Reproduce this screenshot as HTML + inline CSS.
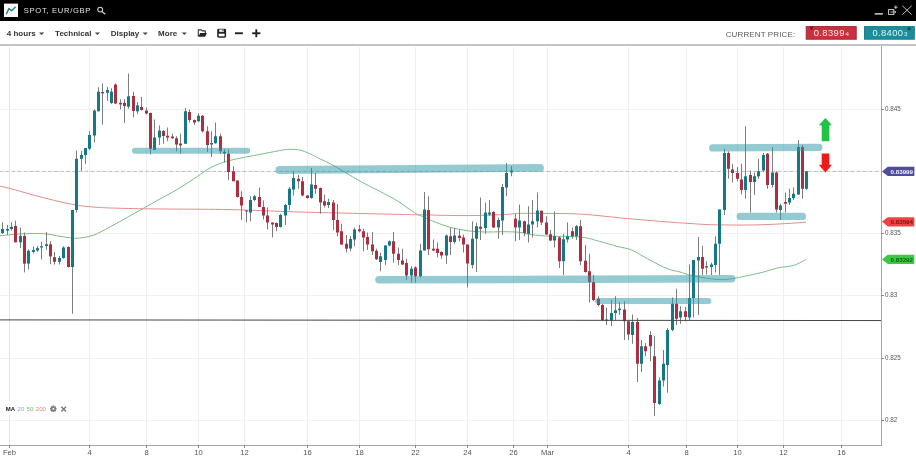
<!DOCTYPE html>
<html><head><meta charset="utf-8"><title>SPOT, EUR/GBP</title>
<style>
html,body{margin:0;padding:0;width:916px;height:460px;overflow:hidden;background:#fff}
body{position:relative;font-family:"Liberation Sans",Arial,sans-serif}
svg{position:absolute;left:0;top:0;display:block;will-change:transform}
svg text{font-family:"Liberation Sans",Arial,sans-serif}
.tb{font-size:8px;font-weight:bold;fill:#333}
.ax{font-size:7.6px;fill:#555}
.pl{font-size:6.3px;fill:#555}
</style></head><body>
<svg width="916" height="460" viewBox="0 0 916 460">
<!-- header -->
<rect x="0" y="0" width="916" height="21" fill="#000"/>
<rect x="4" y="3.6" width="14" height="13.4" fill="#fafafa"/>
<polyline points="6.2,14.3 8.9,8.6 11.7,10.8 15.6,6.7" fill="none" stroke="#2b8079" stroke-width="1.4" stroke-linejoin="round"/>
<text x="23.8" y="13.3" font-size="7.6" fill="#e2e2e2" letter-spacing="0.7">SPOT, EUR/GBP</text>
<circle cx="100.2" cy="9.6" r="2.4" fill="none" stroke="#cfcfcf" stroke-width="1.1"/>
<line x1="101.9" y1="11.4" x2="105.3" y2="14.2" stroke="#cfcfcf" stroke-width="1.3"/>
<rect x="874.7" y="13.1" width="8.2" height="1.5" fill="#cfcfcf"/>
<rect x="888.6" y="9.6" width="5.2" height="4.8" fill="none" stroke="#cfcfcf" stroke-width="1"/>
<path d="M890.5,12 h5.2 M894.6,10.9 l1.3,1.1 l-1.3,1.1" fill="none" stroke="#cfcfcf" stroke-width="0.9"/>
<path d="M895.8,5.4 v3.6 M894,7.2 h3.6" stroke="#cfcfcf" stroke-width="0.9"/>
<path d="M902.4,5.8 L911.6,14.6 M911.6,5.8 L902.4,14.6" stroke="#d4d4d4" stroke-width="0.9"/>
<!-- toolbar -->
<rect x="0" y="44" width="916" height="2" fill="#c3c3c3"/>
<text class="tb" x="6.8" y="36">4 hours</text>
<polygon points="39,32.4 44.2,32.4 41.6,35.1" fill="#444"/>
<text class="tb" x="55.1" y="36">Technical</text>
<polygon points="94.8,32.4 100,32.4 97.4,35.1" fill="#444"/>
<text class="tb" x="110.8" y="36">Display</text>
<polygon points="142.6,32.4 147.8,32.4 145.2,35.1" fill="#444"/>
<text class="tb" x="158.1" y="36">More</text>
<polygon points="181.7,32.4 186.9,32.4 184.3,35.1" fill="#444"/>
<!-- folder icon -->
<path d="M198.3,36.4 V29.9 H201.3 L202.3,30.9 H205.3 V33" fill="#fff" stroke="#333" stroke-width="1.1" stroke-linejoin="round"/>
<path d="M200.2,32.9 H206.9 L205.1,36.8 H198.3 Z" fill="#262626"/>
<!-- save icon -->
<rect x="217.2" y="28.7" width="8.9" height="9" rx="1.4" fill="#222"/>
<rect x="218.7" y="33.7" width="5.9" height="2.6" fill="#fff"/>
<rect x="219.2" y="29.5" width="4.7" height="2.3" fill="#fff"/>
<rect x="222.3" y="29.7" width="1.1" height="1.4" fill="#222"/>
<!-- minus plus -->
<rect x="235" y="32.3" width="7.9" height="1.9" fill="#222"/>
<rect x="252.2" y="32.3" width="8.2" height="1.9" fill="#222"/>
<rect x="255.35" y="29.3" width="1.9" height="7.9" fill="#222"/>
<text x="725.7" y="36.8" font-size="8" fill="#5a5a5a" letter-spacing="0.12">CURRENT PRICE:</text>
<rect x="806.2" y="26.6" width="50" height="12.6" fill="#c9303d" stroke="#a5283a" stroke-width="1"/>
<path d="M810.2,26.4 h2.6 v2 l-1.3,1.8 l-1.3,-1.8 z" fill="#7a1020"/>
<text x="813.7" y="35.8" font-size="9.4" fill="#fbe9ea" letter-spacing="0.4">0.8399<tspan font-size="6.2" dx="0.6">4</tspan></text>
<rect x="864.5" y="26.6" width="49.8" height="12.6" fill="#1b8e9b" stroke="#17808c" stroke-width="1"/>
<path d="M907.8,30.2 h2.6 v-2 l-1.3,-1.8 l-1.3,1.8 z" fill="#0d4d55"/>
<text x="872.4" y="35.8" font-size="9.4" fill="#d8fafa" letter-spacing="0.4">0.8400<tspan font-size="6.2" dx="0.6">3</tspan></text>
<!-- chart grid -->
<line x1="9.5" y1="47" x2="9.5" y2="445" stroke="#e4e4e4"/>
<line x1="89.5" y1="47" x2="89.5" y2="445" stroke="#efefef"/>
<line x1="146.5" y1="47" x2="146.5" y2="445" stroke="#efefef"/>
<line x1="198.5" y1="47" x2="198.5" y2="445" stroke="#efefef"/>
<line x1="244.5" y1="47" x2="244.5" y2="445" stroke="#efefef"/>
<line x1="307.5" y1="47" x2="307.5" y2="445" stroke="#efefef"/>
<line x1="359.5" y1="47" x2="359.5" y2="445" stroke="#efefef"/>
<line x1="415.5" y1="47" x2="415.5" y2="445" stroke="#efefef"/>
<line x1="467.5" y1="47" x2="467.5" y2="445" stroke="#efefef"/>
<line x1="513.5" y1="47" x2="513.5" y2="445" stroke="#efefef"/>
<line x1="547.5" y1="47" x2="547.5" y2="445" stroke="#efefef"/>
<line x1="628.5" y1="47" x2="628.5" y2="445" stroke="#efefef"/>
<line x1="686.5" y1="47" x2="686.5" y2="445" stroke="#efefef"/>
<line x1="737.5" y1="47" x2="737.5" y2="445" stroke="#efefef"/>
<line x1="783.5" y1="47" x2="783.5" y2="445" stroke="#efefef"/>
<line x1="841.5" y1="47" x2="841.5" y2="445" stroke="#efefef"/>
<line x1="0" y1="109.5" x2="881" y2="109.5" stroke="#f1f1f1"/>
<line x1="0" y1="171.5" x2="881" y2="171.5" stroke="#f1f1f1"/>
<line x1="0" y1="233.5" x2="881" y2="233.5" stroke="#f1f1f1"/>
<line x1="0" y1="295.5" x2="881" y2="295.5" stroke="#f1f1f1"/>
<line x1="0" y1="358.5" x2="881" y2="358.5" stroke="#f1f1f1"/>
<line x1="0" y1="420.5" x2="881" y2="420.5" stroke="#f1f1f1"/>
<line x1="0" y1="171.4" x2="881" y2="171.4" stroke="#bdbdbd" stroke-dasharray="3.8,2.279" stroke-dashoffset="0.62"/>
<path d="M0,186.3 C1.82,186.7 5.47,187.28 10.9,188.7 C16.33,190.12 25.37,192.85 32.6,194.8 C39.83,196.75 47.07,198.7 54.3,200.4 C61.53,202.1 68.45,203.82 76,205 C83.55,206.18 89.15,206.88 99.6,207.5 C110.05,208.12 125.67,208.43 138.7,208.7 C151.73,208.97 162.58,208.95 177.8,209.1 C193.02,209.25 209.63,209.12 230,209.6 C250.37,210.08 273.33,211.23 300,212 C326.67,212.77 369.38,213.72 390,214.2 C410.62,214.68 410.82,214.67 423.7,214.9 C436.58,215.13 454.25,215.65 467.3,215.6 C480.35,215.55 493.27,214.97 502,214.6 C510.73,214.23 513.37,213.6 519.7,213.4 C526.03,213.2 531.78,213.35 540,213.4 C548.22,213.45 560.88,213.48 569,213.7 C577.12,213.92 578.9,213.88 588.7,214.7 C598.5,215.52 614.77,217.4 627.8,218.6 C640.83,219.8 656.53,221.08 666.9,221.9 C677.27,222.72 681.98,223.02 690,223.5 C698.02,223.98 703.33,224.58 715,224.8 C726.67,225.02 744.83,225.22 760,224.8 C775.17,224.38 798.33,222.72 806,222.3" fill="none" stroke="#e58b8b" stroke-width="1"/>
<path d="M0,235.8 C2.5,235.55 10,234.67 15,234.3 C20,233.93 25,233.68 30,233.6 C35,233.52 40,233.35 45,233.8 C50,234.25 55.5,235.6 60,236.3 C64.5,237 68.67,237.72 72,238 C75.33,238.28 76.38,238.48 80,238 C83.62,237.52 88.82,236.88 93.7,235.1 C98.58,233.32 103.43,230.4 109.3,227.3 C115.17,224.2 123.03,219.77 128.9,216.5 C134.77,213.23 139.62,210.47 144.5,207.7 C149.38,204.93 152.65,203 158.2,199.9 C163.75,196.8 171.27,193.02 177.8,189.1 C184.33,185.18 192.52,179.65 197.4,176.4 C202.28,173.15 203.85,171.55 207.1,169.6 C210.35,167.65 213.63,166.08 216.9,164.7 C220.17,163.32 222.85,162.38 226.7,161.3 C230.55,160.22 233.63,159.52 240,158.2 C246.37,156.88 257.83,154.75 264.9,153.4 C271.97,152.05 278.32,150.78 282.4,150.1 C286.48,149.42 286.48,149.3 289.4,149.3 C292.32,149.3 296.7,149.47 299.9,150.1 C303.1,150.73 305.7,151.87 308.6,153.1 C311.5,154.33 312.93,155.32 317.3,157.5 C321.67,159.68 328.97,163 334.8,166.2 C340.63,169.4 346.48,173.35 352.3,176.7 C358.12,180.05 365.08,183.85 369.7,186.3 C374.32,188.75 375.37,188.95 380,191.4 C384.63,193.85 391.68,197.4 397.5,201 C403.32,204.6 410.53,210.35 414.9,213 C419.27,215.65 420.78,215.57 423.7,216.9 C426.62,218.23 428.03,219.28 432.4,221 C436.77,222.72 444.08,225.58 449.9,227.2 C455.72,228.82 461.48,229.9 467.3,230.7 C473.12,231.5 478.97,231.83 484.8,232 C490.63,232.17 496.48,231.65 502.3,231.7 C508.12,231.75 515.08,231.83 519.7,232.3 C524.32,232.77 525.02,233.85 530,234.5 C534.98,235.15 543.08,235.88 549.6,236.2 C556.12,236.52 563.23,236.17 569.1,236.4 C574.97,236.63 579.9,236.82 584.8,237.6 C589.7,238.38 592.97,239.6 598.5,241.1 C604.03,242.6 612.47,245.12 618,246.6 C623.53,248.08 626.8,247.98 631.7,250 C636.6,252.02 641.53,255.62 647.4,258.7 C653.27,261.78 661.47,266.28 666.9,268.5 C672.33,270.72 676.37,270.97 680,272 C683.63,273.03 684.33,273.68 688.7,274.7 C693.07,275.72 701.1,277.3 706.2,278.1 C711.3,278.9 714.93,279.42 719.3,279.5 C723.67,279.58 725.62,279.7 732.4,278.6 C739.18,277.5 752.37,274.7 760,272.9 C767.63,271.1 772.55,269.07 778.2,267.8 C783.85,266.53 789.22,266.72 793.9,265.3 C798.58,263.88 804.23,260.3 806.3,259.3" fill="none" stroke="#7bbd88" stroke-width="1"/>
<line x1="2.5" y1="222.2" x2="2.5" y2="234" stroke="#7d7d7d"/>
<rect x="1" y="229" width="3" height="4" fill="#137986"/>
<line x1="7.5" y1="224.9" x2="7.5" y2="235" stroke="#7d7d7d"/>
<rect x="6" y="229" width="3" height="1.6" fill="#137986"/>
<line x1="11.5" y1="222.2" x2="11.5" y2="230.6" stroke="#7d7d7d"/>
<rect x="10" y="226.8" width="3" height="2.2" fill="#137986"/>
<line x1="15.5" y1="220.7" x2="15.5" y2="242.3" stroke="#7d7d7d"/>
<rect x="14" y="226" width="3" height="16.3" fill="#ad2e3e"/>
<line x1="20.5" y1="227.5" x2="20.5" y2="248.1" stroke="#7d7d7d"/>
<rect x="19" y="235.9" width="3" height="6.4" fill="#137986"/>
<line x1="24.5" y1="232.5" x2="24.5" y2="272.4" stroke="#7d7d7d"/>
<rect x="23" y="235.9" width="3" height="27.7" fill="#ad2e3e"/>
<line x1="28.5" y1="249.3" x2="28.5" y2="269.4" stroke="#7d7d7d"/>
<rect x="27" y="250.8" width="3" height="12.8" fill="#137986"/>
<line x1="33.5" y1="246.5" x2="33.5" y2="253.4" stroke="#7d7d7d"/>
<rect x="32" y="249.9" width="3" height="2" fill="#137986"/>
<line x1="37.5" y1="246" x2="37.5" y2="252" stroke="#7d7d7d"/>
<rect x="36" y="248.1" width="3" height="2.3" fill="#137986"/>
<line x1="41.5" y1="241.7" x2="41.5" y2="259.5" stroke="#7d7d7d"/>
<rect x="40" y="246.2" width="3" height="1.3" fill="#137986"/>
<line x1="46.5" y1="232.1" x2="46.5" y2="249.9" stroke="#7d7d7d"/>
<rect x="45" y="244.3" width="3" height="1.7" fill="#137986"/>
<line x1="50.5" y1="241.2" x2="50.5" y2="264.1" stroke="#7d7d7d"/>
<rect x="49" y="244.3" width="3" height="12.1" fill="#ad2e3e"/>
<line x1="54.5" y1="251.9" x2="54.5" y2="264.5" stroke="#7d7d7d"/>
<rect x="53" y="257.2" width="3" height="4.6" fill="#ad2e3e"/>
<line x1="59.5" y1="256" x2="59.5" y2="264.5" stroke="#7d7d7d"/>
<rect x="58" y="258" width="3" height="3.8" fill="#137986"/>
<line x1="63.5" y1="246.25" x2="63.5" y2="258.75" stroke="#7d7d7d"/>
<rect x="62" y="247.5" width="3" height="10.5" fill="#137986"/>
<line x1="68.5" y1="246.25" x2="68.5" y2="267.5" stroke="#7d7d7d"/>
<rect x="67" y="247" width="3" height="20" fill="#ad2e3e"/>
<line x1="72.5" y1="210" x2="72.5" y2="313.75" stroke="#7d7d7d"/>
<rect x="71" y="210" width="3" height="57" fill="#137986"/>
<line x1="76.5" y1="150.5" x2="76.5" y2="212.5" stroke="#7d7d7d"/>
<rect x="75" y="158.75" width="3" height="51.25" fill="#137986"/>
<line x1="81.5" y1="151" x2="81.5" y2="171" stroke="#7d7d7d"/>
<rect x="80" y="155" width="3" height="3.75" fill="#137986"/>
<line x1="85.5" y1="148" x2="85.5" y2="163.75" stroke="#7d7d7d"/>
<rect x="84" y="148" width="3" height="7" fill="#137986"/>
<line x1="89.5" y1="131" x2="89.5" y2="150" stroke="#7d7d7d"/>
<rect x="88" y="135" width="3" height="13.75" fill="#137986"/>
<line x1="94.5" y1="109.3" x2="94.5" y2="142.5" stroke="#7d7d7d"/>
<rect x="93" y="110.6" width="3" height="24.9" fill="#137986"/>
<line x1="98.5" y1="87.2" x2="98.5" y2="111.3" stroke="#7d7d7d"/>
<rect x="97" y="91.7" width="3" height="19.6" fill="#137986"/>
<line x1="102.5" y1="83.3" x2="102.5" y2="124.5" stroke="#7d7d7d"/>
<rect x="101" y="92" width="3" height="1.4" fill="#ad2e3e"/>
<line x1="107.5" y1="86.9" x2="107.5" y2="100.9" stroke="#7d7d7d"/>
<rect x="106" y="90" width="3" height="2.7" fill="#137986"/>
<line x1="111.5" y1="88.2" x2="111.5" y2="104.1" stroke="#7d7d7d"/>
<rect x="110" y="91.7" width="3" height="11.3" fill="#137986"/>
<line x1="115.5" y1="83.3" x2="115.5" y2="104.1" stroke="#7d7d7d"/>
<rect x="114" y="84.6" width="3" height="18.9" fill="#ad2e3e"/>
<line x1="120.5" y1="99.2" x2="120.5" y2="109.3" stroke="#7d7d7d"/>
<rect x="119" y="102.8" width="3" height="1.6" fill="#ad2e3e"/>
<line x1="124.5" y1="99.2" x2="124.5" y2="123" stroke="#7d7d7d"/>
<rect x="123" y="102.8" width="3" height="3.3" fill="#ad2e3e"/>
<line x1="128.5" y1="73.5" x2="128.5" y2="108.7" stroke="#7d7d7d"/>
<rect x="127" y="96.3" width="3" height="10.4" fill="#137986"/>
<line x1="133.5" y1="91.7" x2="133.5" y2="117.2" stroke="#7d7d7d"/>
<rect x="132" y="96" width="3" height="14.9" fill="#ad2e3e"/>
<line x1="137.5" y1="102.2" x2="137.5" y2="113.9" stroke="#7d7d7d"/>
<rect x="136" y="105.4" width="3" height="5.9" fill="#137986"/>
<line x1="141.5" y1="97" x2="141.5" y2="110.6" stroke="#7d7d7d"/>
<rect x="140" y="107" width="3" height="3" fill="#ad2e3e"/>
<line x1="146.5" y1="107.5" x2="146.5" y2="114.5" stroke="#7d7d7d"/>
<rect x="145" y="110.6" width="3" height="2.9" fill="#ad2e3e"/>
<line x1="150.5" y1="112.5" x2="150.5" y2="154.5" stroke="#7d7d7d"/>
<rect x="149" y="113" width="3" height="35.75" fill="#ad2e3e"/>
<line x1="154.5" y1="119.5" x2="154.5" y2="150" stroke="#7d7d7d"/>
<rect x="153" y="137.5" width="3" height="12.5" fill="#137986"/>
<line x1="159.5" y1="125.5" x2="159.5" y2="145" stroke="#7d7d7d"/>
<rect x="158" y="130.5" width="3" height="7" fill="#137986"/>
<line x1="163.5" y1="130" x2="163.5" y2="143.75" stroke="#7d7d7d"/>
<rect x="162" y="131" width="3" height="5" fill="#ad2e3e"/>
<line x1="167.5" y1="127.5" x2="167.5" y2="141.25" stroke="#7d7d7d"/>
<rect x="166" y="135.75" width="3" height="1.75" fill="#ad2e3e"/>
<line x1="172.5" y1="133.75" x2="172.5" y2="138.75" stroke="#7d7d7d"/>
<rect x="171" y="136.5" width="3" height="1.75" fill="#ad2e3e"/>
<line x1="176.5" y1="136.25" x2="176.5" y2="151.25" stroke="#7d7d7d"/>
<rect x="175" y="138.25" width="3" height="6.25" fill="#ad2e3e"/>
<line x1="180.5" y1="133.75" x2="180.5" y2="153.5" stroke="#7d7d7d"/>
<rect x="179" y="143.5" width="3" height="2" fill="#ad2e3e"/>
<line x1="185.5" y1="108" x2="185.5" y2="143.75" stroke="#7d7d7d"/>
<rect x="184" y="111.25" width="3" height="32.5" fill="#137986"/>
<line x1="189.5" y1="109.5" x2="189.5" y2="122.5" stroke="#7d7d7d"/>
<rect x="188" y="112" width="3" height="8" fill="#ad2e3e"/>
<line x1="194.5" y1="119.5" x2="194.5" y2="125" stroke="#7d7d7d"/>
<rect x="193" y="120" width="3" height="2.5" fill="#ad2e3e"/>
<line x1="198.5" y1="113.25" x2="198.5" y2="122" stroke="#7d7d7d"/>
<rect x="197" y="115.75" width="3" height="5.5" fill="#137986"/>
<line x1="202.5" y1="115" x2="202.5" y2="132.5" stroke="#7d7d7d"/>
<rect x="201" y="115.75" width="3" height="15.5" fill="#ad2e3e"/>
<line x1="207.5" y1="126.25" x2="207.5" y2="152" stroke="#7d7d7d"/>
<rect x="206" y="131.25" width="3" height="13.75" fill="#ad2e3e"/>
<line x1="211.5" y1="131.25" x2="211.5" y2="157" stroke="#7d7d7d"/>
<rect x="210" y="143" width="3" height="1.5" fill="#137986"/>
<line x1="215.5" y1="122.5" x2="215.5" y2="143.75" stroke="#7d7d7d"/>
<rect x="214" y="136.25" width="3" height="7" fill="#137986"/>
<line x1="220.5" y1="133.75" x2="220.5" y2="153.75" stroke="#7d7d7d"/>
<rect x="219" y="136.25" width="3" height="15" fill="#ad2e3e"/>
<line x1="224.5" y1="149.25" x2="224.5" y2="162.5" stroke="#7d7d7d"/>
<rect x="223" y="151.8" width="3" height="1.7" fill="#137986"/>
<line x1="228.5" y1="149.25" x2="228.5" y2="180" stroke="#7d7d7d"/>
<rect x="227" y="153.75" width="3" height="18.25" fill="#ad2e3e"/>
<line x1="233.5" y1="166.25" x2="233.5" y2="181.25" stroke="#7d7d7d"/>
<rect x="232" y="171.25" width="3" height="10" fill="#ad2e3e"/>
<line x1="237.5" y1="180.5" x2="237.5" y2="197.5" stroke="#7d7d7d"/>
<rect x="236" y="180.5" width="3" height="16.5" fill="#ad2e3e"/>
<line x1="241.5" y1="191.25" x2="241.5" y2="220" stroke="#7d7d7d"/>
<rect x="240" y="197" width="3" height="8.5" fill="#ad2e3e"/>
<line x1="246.5" y1="210" x2="246.5" y2="222.5" stroke="#7d7d7d"/>
<rect x="245" y="210.5" width="3" height="1" fill="#137986"/>
<line x1="250.5" y1="196.25" x2="250.5" y2="221.25" stroke="#7d7d7d"/>
<rect x="249" y="200" width="3" height="12.5" fill="#137986"/>
<line x1="254.5" y1="195" x2="254.5" y2="201.25" stroke="#7d7d7d"/>
<rect x="253" y="196.25" width="3" height="3.75" fill="#137986"/>
<line x1="259.5" y1="187.5" x2="259.5" y2="207" stroke="#7d7d7d"/>
<rect x="258" y="197" width="3" height="10" fill="#ad2e3e"/>
<line x1="263.5" y1="200.5" x2="263.5" y2="219.5" stroke="#7d7d7d"/>
<rect x="262" y="207" width="3" height="8.5" fill="#ad2e3e"/>
<line x1="267.5" y1="207.5" x2="267.5" y2="229.5" stroke="#7d7d7d"/>
<rect x="266" y="215.5" width="3" height="7" fill="#ad2e3e"/>
<line x1="272.5" y1="222.5" x2="272.5" y2="237.5" stroke="#7d7d7d"/>
<rect x="271" y="222.5" width="3" height="2" fill="#ad2e3e"/>
<line x1="276.5" y1="222.5" x2="276.5" y2="231.25" stroke="#7d7d7d"/>
<rect x="275" y="223" width="3" height="4" fill="#ad2e3e"/>
<line x1="280.5" y1="213.75" x2="280.5" y2="227.5" stroke="#7d7d7d"/>
<rect x="279" y="215" width="3" height="12" fill="#137986"/>
<line x1="285.5" y1="203.75" x2="285.5" y2="225" stroke="#7d7d7d"/>
<rect x="284" y="205" width="3" height="10.5" fill="#137986"/>
<line x1="289.5" y1="187" x2="289.5" y2="210" stroke="#7d7d7d"/>
<rect x="288" y="188.75" width="3" height="16.25" fill="#137986"/>
<line x1="293.5" y1="171.25" x2="293.5" y2="195.5" stroke="#7d7d7d"/>
<rect x="292" y="178" width="3" height="11.5" fill="#137986"/>
<line x1="298.5" y1="175" x2="298.5" y2="188.75" stroke="#7d7d7d"/>
<rect x="297" y="178.75" width="3" height="2.5" fill="#ad2e3e"/>
<line x1="302.5" y1="177" x2="302.5" y2="196.25" stroke="#7d7d7d"/>
<rect x="301" y="181.25" width="3" height="14.25" fill="#ad2e3e"/>
<line x1="307.5" y1="195" x2="307.5" y2="198.75" stroke="#7d7d7d"/>
<rect x="306" y="195.5" width="3" height="2.5" fill="#ad2e3e"/>
<line x1="311.5" y1="168" x2="311.5" y2="198.75" stroke="#7d7d7d"/>
<rect x="310" y="184.5" width="3" height="13.5" fill="#137986"/>
<line x1="315.5" y1="173" x2="315.5" y2="193.75" stroke="#7d7d7d"/>
<rect x="314" y="185" width="3" height="3.75" fill="#ad2e3e"/>
<line x1="320.5" y1="187.5" x2="320.5" y2="213.75" stroke="#7d7d7d"/>
<rect x="319" y="188" width="3" height="14.5" fill="#ad2e3e"/>
<line x1="324.5" y1="194.5" x2="324.5" y2="207.5" stroke="#7d7d7d"/>
<rect x="323" y="201.25" width="3" height="4.25" fill="#ad2e3e"/>
<line x1="328.5" y1="198.75" x2="328.5" y2="208" stroke="#7d7d7d"/>
<rect x="327" y="202" width="3" height="3" fill="#137986"/>
<line x1="333.5" y1="200" x2="333.5" y2="230" stroke="#7d7d7d"/>
<rect x="332" y="202.5" width="3" height="17.5" fill="#ad2e3e"/>
<line x1="337.5" y1="203.75" x2="337.5" y2="236.25" stroke="#7d7d7d"/>
<rect x="336" y="220" width="3" height="12.5" fill="#ad2e3e"/>
<line x1="341.5" y1="223.75" x2="341.5" y2="245" stroke="#7d7d7d"/>
<rect x="340" y="231.25" width="3" height="13.25" fill="#ad2e3e"/>
<line x1="346.5" y1="235" x2="346.5" y2="252.5" stroke="#7d7d7d"/>
<rect x="345" y="243.75" width="3" height="5" fill="#ad2e3e"/>
<line x1="350.5" y1="236.25" x2="350.5" y2="251.25" stroke="#7d7d7d"/>
<rect x="349" y="239" width="3" height="9.5" fill="#137986"/>
<line x1="354.5" y1="227.5" x2="354.5" y2="246.25" stroke="#7d7d7d"/>
<rect x="353" y="229.5" width="3" height="10" fill="#137986"/>
<line x1="359.5" y1="225" x2="359.5" y2="232.5" stroke="#7d7d7d"/>
<rect x="358" y="229.25" width="3" height="2" fill="#ad2e3e"/>
<line x1="363.5" y1="228.75" x2="363.5" y2="251.25" stroke="#7d7d7d"/>
<rect x="362" y="231.25" width="3" height="6.25" fill="#ad2e3e"/>
<line x1="367.5" y1="232.5" x2="367.5" y2="250" stroke="#7d7d7d"/>
<rect x="366" y="237" width="3" height="7.5" fill="#ad2e3e"/>
<line x1="372.5" y1="232" x2="372.5" y2="255" stroke="#7d7d7d"/>
<rect x="371" y="244.5" width="3" height="6.75" fill="#ad2e3e"/>
<line x1="376.5" y1="248.75" x2="376.5" y2="260" stroke="#7d7d7d"/>
<rect x="375" y="250.75" width="3" height="8.5" fill="#ad2e3e"/>
<line x1="380.5" y1="252.5" x2="380.5" y2="271.25" stroke="#7d7d7d"/>
<rect x="379" y="256.25" width="3" height="5.75" fill="#137986"/>
<line x1="385.5" y1="245" x2="385.5" y2="265" stroke="#7d7d7d"/>
<rect x="384" y="245.5" width="3" height="14.5" fill="#137986"/>
<line x1="389.5" y1="240.5" x2="389.5" y2="246.25" stroke="#7d7d7d"/>
<rect x="388" y="241.25" width="3" height="4.25" fill="#137986"/>
<line x1="393.5" y1="232" x2="393.5" y2="262.5" stroke="#7d7d7d"/>
<rect x="392" y="241.25" width="3" height="12.5" fill="#ad2e3e"/>
<line x1="398.5" y1="247.5" x2="398.5" y2="265" stroke="#7d7d7d"/>
<rect x="397" y="253.75" width="3" height="6.25" fill="#ad2e3e"/>
<line x1="402.5" y1="248.75" x2="402.5" y2="265" stroke="#7d7d7d"/>
<rect x="401" y="260.5" width="3" height="4" fill="#ad2e3e"/>
<line x1="406.5" y1="258.75" x2="406.5" y2="280" stroke="#7d7d7d"/>
<rect x="405" y="263" width="3" height="12.5" fill="#ad2e3e"/>
<line x1="411.5" y1="266.25" x2="411.5" y2="282.5" stroke="#7d7d7d"/>
<rect x="410" y="268.75" width="3" height="6.75" fill="#137986"/>
<line x1="415.5" y1="266.25" x2="415.5" y2="282.5" stroke="#7d7d7d"/>
<rect x="414" y="267.5" width="3" height="8.75" fill="#ad2e3e"/>
<line x1="420.5" y1="243.75" x2="420.5" y2="277.5" stroke="#7d7d7d"/>
<rect x="419" y="250.5" width="3" height="25.75" fill="#137986"/>
<line x1="424.5" y1="192" x2="424.5" y2="250.5" stroke="#7d7d7d"/>
<rect x="423" y="209.5" width="3" height="41" fill="#137986"/>
<line x1="428.5" y1="196.25" x2="428.5" y2="255" stroke="#7d7d7d"/>
<rect x="427" y="210" width="3" height="39.2" fill="#ad2e3e"/>
<line x1="433.5" y1="239.5" x2="433.5" y2="251.25" stroke="#7d7d7d"/>
<rect x="432" y="248.75" width="3" height="1.75" fill="#ad2e3e"/>
<line x1="437.5" y1="242.5" x2="437.5" y2="257.5" stroke="#7d7d7d"/>
<rect x="436" y="248.75" width="3" height="4.25" fill="#ad2e3e"/>
<line x1="441.5" y1="251.25" x2="441.5" y2="258.75" stroke="#7d7d7d"/>
<rect x="440" y="252" width="3" height="3.5" fill="#ad2e3e"/>
<line x1="446.5" y1="234.5" x2="446.5" y2="263.75" stroke="#7d7d7d"/>
<rect x="445" y="235.5" width="3" height="20" fill="#137986"/>
<line x1="450.5" y1="228" x2="450.5" y2="255" stroke="#7d7d7d"/>
<rect x="449" y="236.25" width="3" height="5.75" fill="#ad2e3e"/>
<line x1="454.5" y1="228" x2="454.5" y2="243.75" stroke="#7d7d7d"/>
<rect x="453" y="235.5" width="3" height="6.5" fill="#137986"/>
<line x1="459.5" y1="229.5" x2="459.5" y2="241.25" stroke="#7d7d7d"/>
<rect x="458" y="235.75" width="3" height="2.25" fill="#ad2e3e"/>
<line x1="463.5" y1="234.5" x2="463.5" y2="252.5" stroke="#7d7d7d"/>
<rect x="462" y="237.5" width="3" height="7" fill="#ad2e3e"/>
<line x1="467.5" y1="244.5" x2="467.5" y2="287.4" stroke="#7d7d7d"/>
<rect x="466" y="244.5" width="3" height="19" fill="#ad2e3e"/>
<line x1="472.5" y1="221.25" x2="472.5" y2="268.5" stroke="#7d7d7d"/>
<rect x="471" y="238.75" width="3" height="26.25" fill="#137986"/>
<line x1="476.5" y1="222.5" x2="476.5" y2="272" stroke="#7d7d7d"/>
<rect x="475" y="226.25" width="3" height="12.5" fill="#137986"/>
<line x1="480.5" y1="197.5" x2="480.5" y2="240" stroke="#7d7d7d"/>
<rect x="479" y="226.75" width="3" height="2" fill="#ad2e3e"/>
<line x1="485.5" y1="202.5" x2="485.5" y2="233.75" stroke="#7d7d7d"/>
<rect x="484" y="212.5" width="3" height="15.5" fill="#137986"/>
<line x1="489.5" y1="200" x2="489.5" y2="216.25" stroke="#7d7d7d"/>
<rect x="488" y="212.5" width="3" height="2" fill="#137986"/>
<line x1="493.5" y1="211.25" x2="493.5" y2="228" stroke="#7d7d7d"/>
<rect x="492" y="212" width="3" height="15.5" fill="#ad2e3e"/>
<line x1="498.5" y1="217.5" x2="498.5" y2="238.75" stroke="#7d7d7d"/>
<rect x="497" y="220" width="3" height="7.5" fill="#137986"/>
<line x1="502.5" y1="184" x2="502.5" y2="235" stroke="#7d7d7d"/>
<rect x="501" y="187" width="3" height="33.5" fill="#137986"/>
<line x1="506.5" y1="163" x2="506.5" y2="196.25" stroke="#7d7d7d"/>
<rect x="505" y="173" width="3" height="14.5" fill="#137986"/>
<line x1="511.5" y1="166" x2="511.5" y2="176.25" stroke="#7d7d7d"/>
<rect x="510" y="170.5" width="3" height="2" fill="#137986"/>
<line x1="515.5" y1="213.75" x2="515.5" y2="241.25" stroke="#7d7d7d"/>
<rect x="514" y="218.75" width="3" height="8.75" fill="#ad2e3e"/>
<line x1="519.5" y1="204.5" x2="519.5" y2="240" stroke="#7d7d7d"/>
<rect x="518" y="220.5" width="3" height="7" fill="#137986"/>
<line x1="524.5" y1="220.5" x2="524.5" y2="236.25" stroke="#7d7d7d"/>
<rect x="523" y="221.25" width="3" height="11.75" fill="#ad2e3e"/>
<line x1="528.5" y1="206.25" x2="528.5" y2="242.5" stroke="#7d7d7d"/>
<rect x="527" y="224.5" width="3" height="9.25" fill="#137986"/>
<line x1="532.5" y1="200" x2="532.5" y2="237.5" stroke="#7d7d7d"/>
<rect x="531" y="221.25" width="3" height="3.25" fill="#137986"/>
<line x1="537.5" y1="192.5" x2="537.5" y2="227.5" stroke="#7d7d7d"/>
<rect x="536" y="210.5" width="3" height="10.75" fill="#137986"/>
<line x1="541.5" y1="210.5" x2="541.5" y2="225" stroke="#7d7d7d"/>
<rect x="540" y="210.75" width="3" height="11.75" fill="#ad2e3e"/>
<line x1="546.5" y1="216.25" x2="546.5" y2="235" stroke="#7d7d7d"/>
<rect x="545" y="222.5" width="3" height="12" fill="#ad2e3e"/>
<line x1="550.5" y1="230" x2="550.5" y2="241.25" stroke="#7d7d7d"/>
<rect x="549" y="234.25" width="3" height="6.25" fill="#ad2e3e"/>
<line x1="554.5" y1="211.25" x2="554.5" y2="247.5" stroke="#7d7d7d"/>
<rect x="553" y="236.25" width="3" height="4.25" fill="#137986"/>
<line x1="559.5" y1="236.25" x2="559.5" y2="268" stroke="#7d7d7d"/>
<rect x="558" y="237.5" width="3" height="23.75" fill="#ad2e3e"/>
<line x1="563.5" y1="233.75" x2="563.5" y2="275" stroke="#7d7d7d"/>
<rect x="562" y="239.25" width="3" height="22" fill="#137986"/>
<line x1="567.5" y1="222.5" x2="567.5" y2="242.5" stroke="#7d7d7d"/>
<rect x="566" y="236.25" width="3" height="3.25" fill="#137986"/>
<line x1="572.5" y1="227.5" x2="572.5" y2="238.75" stroke="#7d7d7d"/>
<rect x="571" y="231.25" width="3" height="5" fill="#ad2e3e"/>
<line x1="576.5" y1="225" x2="576.5" y2="240" stroke="#7d7d7d"/>
<rect x="575" y="226.25" width="3" height="10" fill="#137986"/>
<line x1="580.5" y1="220" x2="580.5" y2="265" stroke="#7d7d7d"/>
<rect x="579" y="226.25" width="3" height="35" fill="#ad2e3e"/>
<line x1="585.5" y1="245" x2="585.5" y2="272.5" stroke="#7d7d7d"/>
<rect x="584" y="260.75" width="3" height="11.25" fill="#ad2e3e"/>
<line x1="589.5" y1="253.75" x2="589.5" y2="302.5" stroke="#7d7d7d"/>
<rect x="588" y="271.25" width="3" height="10.75" fill="#ad2e3e"/>
<line x1="593.5" y1="275" x2="593.5" y2="301.25" stroke="#7d7d7d"/>
<rect x="592" y="282" width="3" height="18" fill="#ad2e3e"/>
<line x1="598.5" y1="296.25" x2="598.5" y2="306.25" stroke="#7d7d7d"/>
<rect x="597" y="298.75" width="3" height="6.25" fill="#ad2e3e"/>
<line x1="602.5" y1="303.75" x2="602.5" y2="321.25" stroke="#7d7d7d"/>
<rect x="601" y="305" width="3" height="15" fill="#ad2e3e"/>
<line x1="606.5" y1="307.5" x2="606.5" y2="325" stroke="#7d7d7d"/>
<rect x="605" y="319.5" width="3" height="1.5" fill="#137986"/>
<line x1="611.5" y1="300" x2="611.5" y2="326" stroke="#7d7d7d"/>
<rect x="610" y="313" width="3" height="7.5" fill="#137986"/>
<line x1="615.5" y1="296.25" x2="615.5" y2="320" stroke="#7d7d7d"/>
<rect x="614" y="310.25" width="3" height="2.75" fill="#137986"/>
<line x1="619.5" y1="302" x2="619.5" y2="315" stroke="#7d7d7d"/>
<rect x="618" y="308.6" width="3" height="1.6" fill="#137986"/>
<line x1="624.5" y1="301.25" x2="624.5" y2="340" stroke="#7d7d7d"/>
<rect x="623" y="309.5" width="3" height="11.75" fill="#ad2e3e"/>
<line x1="628.5" y1="321" x2="628.5" y2="340" stroke="#7d7d7d"/>
<rect x="627" y="321.25" width="3" height="13.25" fill="#ad2e3e"/>
<line x1="632.5" y1="314.5" x2="632.5" y2="343.75" stroke="#7d7d7d"/>
<rect x="631" y="322" width="3" height="13" fill="#137986"/>
<line x1="637.5" y1="318" x2="637.5" y2="382" stroke="#7d7d7d"/>
<rect x="636" y="322" width="3" height="41.75" fill="#ad2e3e"/>
<line x1="641.5" y1="340" x2="641.5" y2="372" stroke="#7d7d7d"/>
<rect x="640" y="346.25" width="3" height="17.5" fill="#137986"/>
<line x1="645.5" y1="343" x2="645.5" y2="356.25" stroke="#7d7d7d"/>
<rect x="644" y="346.25" width="3" height="5" fill="#ad2e3e"/>
<line x1="650.5" y1="331.25" x2="650.5" y2="361.25" stroke="#7d7d7d"/>
<rect x="649" y="335" width="3" height="11.25" fill="#ad2e3e"/>
<line x1="654.5" y1="336.25" x2="654.5" y2="416" stroke="#7d7d7d"/>
<rect x="653" y="356.25" width="3" height="46.75" fill="#ad2e3e"/>
<line x1="659.5" y1="377.5" x2="659.5" y2="405" stroke="#7d7d7d"/>
<rect x="658" y="380.5" width="3" height="23.5" fill="#137986"/>
<line x1="663.5" y1="350" x2="663.5" y2="386.5" stroke="#7d7d7d"/>
<rect x="662" y="363.75" width="3" height="16.75" fill="#137986"/>
<line x1="667.5" y1="328" x2="667.5" y2="392.8" stroke="#7d7d7d"/>
<rect x="666" y="330" width="3" height="35" fill="#137986"/>
<line x1="672.5" y1="297.5" x2="672.5" y2="331.25" stroke="#7d7d7d"/>
<rect x="671" y="303.75" width="3" height="26.25" fill="#137986"/>
<line x1="676.5" y1="288.75" x2="676.5" y2="325" stroke="#7d7d7d"/>
<rect x="675" y="303.75" width="3" height="15" fill="#ad2e3e"/>
<line x1="680.5" y1="306.25" x2="680.5" y2="323.75" stroke="#7d7d7d"/>
<rect x="679" y="311.25" width="3" height="6.25" fill="#137986"/>
<line x1="685.5" y1="307" x2="685.5" y2="321.25" stroke="#7d7d7d"/>
<rect x="684" y="311.25" width="3" height="5.75" fill="#ad2e3e"/>
<line x1="689.5" y1="264.5" x2="689.5" y2="320" stroke="#7d7d7d"/>
<rect x="688" y="298" width="3" height="19.5" fill="#137986"/>
<line x1="693.5" y1="260" x2="693.5" y2="317.5" stroke="#7d7d7d"/>
<rect x="692" y="260" width="3" height="38" fill="#137986"/>
<line x1="698.5" y1="237" x2="698.5" y2="315" stroke="#7d7d7d"/>
<rect x="697" y="257" width="3" height="3.5" fill="#137986"/>
<line x1="702.5" y1="245.75" x2="702.5" y2="275" stroke="#7d7d7d"/>
<rect x="701" y="257" width="3" height="11.75" fill="#ad2e3e"/>
<line x1="706.5" y1="261.25" x2="706.5" y2="274.5" stroke="#7d7d7d"/>
<rect x="705" y="266.25" width="3" height="1.25" fill="#ad2e3e"/>
<line x1="711.5" y1="262.5" x2="711.5" y2="275" stroke="#7d7d7d"/>
<rect x="710" y="264.5" width="3" height="2.5" fill="#137986"/>
<line x1="715.5" y1="236.25" x2="715.5" y2="272.5" stroke="#7d7d7d"/>
<rect x="714" y="243.75" width="3" height="21.25" fill="#137986"/>
<line x1="719.5" y1="209.5" x2="719.5" y2="275" stroke="#7d7d7d"/>
<rect x="718" y="209.5" width="3" height="34.25" fill="#137986"/>
<line x1="724.5" y1="148.75" x2="724.5" y2="215" stroke="#7d7d7d"/>
<rect x="723" y="153" width="3" height="57" fill="#137986"/>
<line x1="728.5" y1="151.25" x2="728.5" y2="178.75" stroke="#7d7d7d"/>
<rect x="727" y="153" width="3" height="15.75" fill="#ad2e3e"/>
<line x1="732.5" y1="163.75" x2="732.5" y2="182.5" stroke="#7d7d7d"/>
<rect x="731" y="169.5" width="3" height="3.5" fill="#ad2e3e"/>
<line x1="737.5" y1="167" x2="737.5" y2="181.25" stroke="#7d7d7d"/>
<rect x="736" y="173" width="3" height="5.75" fill="#ad2e3e"/>
<line x1="741.5" y1="163.75" x2="741.5" y2="194.5" stroke="#7d7d7d"/>
<rect x="740" y="179.5" width="3" height="10.5" fill="#ad2e3e"/>
<line x1="745.5" y1="126.25" x2="745.5" y2="198.75" stroke="#7d7d7d"/>
<rect x="744" y="176.25" width="3" height="13.75" fill="#137986"/>
<line x1="750.5" y1="170.5" x2="750.5" y2="212.5" stroke="#7d7d7d"/>
<rect x="749" y="175" width="3" height="7" fill="#ad2e3e"/>
<line x1="754.5" y1="172.5" x2="754.5" y2="195" stroke="#7d7d7d"/>
<rect x="753" y="176.25" width="3" height="5.75" fill="#137986"/>
<line x1="758.5" y1="158.75" x2="758.5" y2="178.75" stroke="#7d7d7d"/>
<rect x="757" y="171.25" width="3" height="5" fill="#137986"/>
<line x1="763.5" y1="153" x2="763.5" y2="172" stroke="#7d7d7d"/>
<rect x="762" y="155" width="3" height="15.5" fill="#137986"/>
<line x1="767.5" y1="153" x2="767.5" y2="188.75" stroke="#7d7d7d"/>
<rect x="766" y="153.75" width="3" height="31.25" fill="#ad2e3e"/>
<line x1="772.5" y1="147" x2="772.5" y2="187.5" stroke="#7d7d7d"/>
<rect x="771" y="172.5" width="3" height="12.5" fill="#137986"/>
<line x1="776.5" y1="171.25" x2="776.5" y2="212.5" stroke="#7d7d7d"/>
<rect x="775" y="172.5" width="3" height="37" fill="#ad2e3e"/>
<line x1="780.5" y1="203.75" x2="780.5" y2="220" stroke="#7d7d7d"/>
<rect x="779" y="205.5" width="3" height="4.5" fill="#137986"/>
<line x1="785.5" y1="192.5" x2="785.5" y2="212.5" stroke="#7d7d7d"/>
<rect x="784" y="202" width="3" height="1.75" fill="#ad2e3e"/>
<line x1="789.5" y1="188.75" x2="789.5" y2="205" stroke="#7d7d7d"/>
<rect x="788" y="198" width="3" height="4.5" fill="#137986"/>
<line x1="793.5" y1="187.5" x2="793.5" y2="200" stroke="#7d7d7d"/>
<rect x="792" y="193.75" width="3" height="4.25" fill="#137986"/>
<line x1="798.5" y1="140" x2="798.5" y2="195" stroke="#7d7d7d"/>
<rect x="797" y="147" width="3" height="47.5" fill="#137986"/>
<line x1="802.5" y1="145" x2="802.5" y2="198.75" stroke="#7d7d7d"/>
<rect x="801" y="147" width="3" height="41.75" fill="#ad2e3e"/>
<line x1="806.5" y1="171.25" x2="806.5" y2="190" stroke="#7d7d7d"/>
<rect x="805" y="171.25" width="3" height="17.5" fill="#137986"/>
<line x1="135" y1="150.85" x2="247.2" y2="150.85" stroke="#2a97a6" stroke-opacity="0.5" stroke-width="6" stroke-linecap="round"/>
<line x1="279.4" y1="170" x2="540" y2="167.9" stroke="#2a97a6" stroke-opacity="0.5" stroke-width="7.8" stroke-linecap="round"/>
<line x1="379" y1="279.8" x2="731.7" y2="278.8" stroke="#2a97a6" stroke-opacity="0.5" stroke-width="7.6" stroke-linecap="round"/>
<line x1="598" y1="301" x2="708.4" y2="301" stroke="#2a97a6" stroke-opacity="0.5" stroke-width="6" stroke-linecap="round"/>
<line x1="740.25" y1="216.4" x2="802.45" y2="216.4" stroke="#2a97a6" stroke-opacity="0.5" stroke-width="7.3" stroke-linecap="round"/>
<line x1="712.8" y1="147.9" x2="818.9" y2="147.4" stroke="#2a97a6" stroke-opacity="0.5" stroke-width="7.4" stroke-linecap="round"/>
<line x1="0" y1="319.9" x2="881" y2="320.55" stroke="#454545" stroke-width="1"/>
<!-- axes -->
<line x1="881.5" y1="46" x2="881.5" y2="445.5" stroke="#a4a4a4"/>
<line x1="0" y1="445.5" x2="882" y2="445.5" stroke="#a4a4a4"/>
<g class="ax">
<line x1="9.5" y1="445" x2="9.5" y2="448" stroke="#888"/>
<text x="9.5" y="455" text-anchor="middle">Feb</text>
<line x1="89.5" y1="445" x2="89.5" y2="448" stroke="#888"/>
<text x="89.5" y="455" text-anchor="middle">4</text>
<line x1="146.5" y1="445" x2="146.5" y2="448" stroke="#888"/>
<text x="146.5" y="455" text-anchor="middle">8</text>
<line x1="198.5" y1="445" x2="198.5" y2="448" stroke="#888"/>
<text x="198.5" y="455" text-anchor="middle">10</text>
<line x1="244.5" y1="445" x2="244.5" y2="448" stroke="#888"/>
<text x="244.5" y="455" text-anchor="middle">12</text>
<line x1="307.5" y1="445" x2="307.5" y2="448" stroke="#888"/>
<text x="307.5" y="455" text-anchor="middle">16</text>
<line x1="359.5" y1="445" x2="359.5" y2="448" stroke="#888"/>
<text x="359.5" y="455" text-anchor="middle">18</text>
<line x1="415.5" y1="445" x2="415.5" y2="448" stroke="#888"/>
<text x="415.5" y="455" text-anchor="middle">22</text>
<line x1="467.5" y1="445" x2="467.5" y2="448" stroke="#888"/>
<text x="467.5" y="455" text-anchor="middle">24</text>
<line x1="513.5" y1="445" x2="513.5" y2="448" stroke="#888"/>
<text x="513.5" y="455" text-anchor="middle">26</text>
<line x1="547.5" y1="445" x2="547.5" y2="448" stroke="#888"/>
<text x="547.5" y="455" text-anchor="middle">Mar</text>
<line x1="628.5" y1="445" x2="628.5" y2="448" stroke="#888"/>
<text x="628.5" y="455" text-anchor="middle">4</text>
<line x1="686.5" y1="445" x2="686.5" y2="448" stroke="#888"/>
<text x="686.5" y="455" text-anchor="middle">8</text>
<line x1="737.5" y1="445" x2="737.5" y2="448" stroke="#888"/>
<text x="737.5" y="455" text-anchor="middle">10</text>
<line x1="783.5" y1="445" x2="783.5" y2="448" stroke="#888"/>
<text x="783.5" y="455" text-anchor="middle">12</text>
<line x1="841.5" y1="445" x2="841.5" y2="448" stroke="#888"/>
<text x="841.5" y="455" text-anchor="middle">16</text>
<line x1="881" y1="109.5" x2="884" y2="109.5" stroke="#888"/>
<text x="885" y="110.9" class="pl">0.845</text>
<line x1="881" y1="233.5" x2="884" y2="233.5" stroke="#888"/>
<text x="885" y="234.9" class="pl">0.835</text>
<line x1="881" y1="295.5" x2="884" y2="295.5" stroke="#888"/>
<text x="885" y="296.9" class="pl">0.83</text>
<line x1="881" y1="358.5" x2="884" y2="358.5" stroke="#888"/>
<text x="885" y="359.9" class="pl">0.825</text>
<line x1="881" y1="420.5" x2="884" y2="420.5" stroke="#888"/>
<text x="885" y="421.9" class="pl">0.82</text>
</g>
<!-- price tags -->
<path d="M882,171.4 L887.8,166.8 H913.6 Q914.4,166.8 914.4,167.6 V175.2 Q914.4,176 913.6,176 H887.8 Z" fill="#4d4d9c"/>
<text x="890.6" y="173.7" font-size="6.2" font-weight="bold" fill="#f2f2ff">0.83999</text>
<path d="M882,221.6 L887.8,217.2 H913.6 Q914.4,217.2 914.4,218 V225.6 Q914.4,226.4 913.6,226.4 H887.8 Z" fill="#ee4444"/>
<text x="890.6" y="224" font-size="6.2" font-weight="bold" fill="#8a0a0a">0.83594</text>
<path d="M882,259.4 L887.8,254.8 H913.6 Q914.4,254.8 914.4,255.6 V263.2 Q914.4,264 913.6,264 H887.8 Z" fill="#3dc946"/>
<text x="890.6" y="261.8" font-size="6.2" font-weight="bold" fill="#075f0b">0.83292</text>
<!-- arrows -->
<path d="M825.4,117.9 L832,125.2 H829.3 V141.2 H821.7 V125.2 H818.8 Z" fill="#22c245"/>
<path d="M825.4,172.4 L832,164.8 H829.3 V153.4 H821.7 V164.8 H818.8 Z" fill="#ee1a1a"/>
<!-- MA legend -->
<rect x="3" y="401" width="68" height="14" fill="#fff"/>
<text x="5.7" y="411" font-size="6" font-weight="bold" fill="#222">MA</text>
<text x="17.6" y="411" font-size="6" fill="#7aa7d8">20</text>
<text x="26.6" y="411" font-size="6" fill="#6dbd6d">50</text>
<text x="35.8" y="411" font-size="6" fill="#dd8080">200</text>
<g transform="translate(53.3,408.8)" fill="#777">
<circle r="2.3"/>
<path d="M-0.8,-3.3 h1.6 v6.6 h-1.6 z M-3.3,-0.8 v1.6 h6.6 v-1.6 z" />
<path d="M-0.8,-3.3 h1.6 v6.6 h-1.6 z M-3.3,-0.8 v1.6 h6.6 v-1.6 z" transform="rotate(45)"/>
<circle r="1" fill="#fff"/>
</g>
<path d="M61.3,406.8 L66,411.4 M66,406.8 L61.3,411.4" stroke="#777" stroke-width="1.4"/>
</svg>
</body></html>
